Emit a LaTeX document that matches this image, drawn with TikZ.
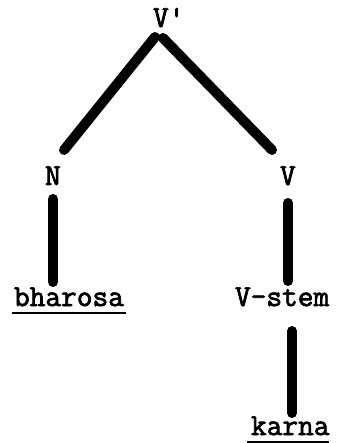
\documentclass[tikz,border=0pt]{standalone}
\usepackage{fontspec}
\newfontfamily\typewriter[FakeBold=2.4]{Latin Modern Mono}
\usetikzlibrary{calc}
\tikzset{
  lbl/.style={font=\typewriter\fontsize{30.5}{30.5}\selectfont, inner sep=0pt, outer sep=0pt, anchor=base west},
  branch/.style={line width=10pt, line cap=round},
  uline/.style={line width=2.4pt}
}
\begin{document}
\begin{tikzpicture}[x=1pt, y=-1pt]
  \useasboundingbox (0,0) rectangle (347,443);

  % labels of the tree
  \node[lbl] (vp)      at (153,27)  {V'};
  \node[lbl] (n)       at (45,185)  {N};
  \node[lbl] (v)       at (280,185) {V};
  \node[lbl] (bharosa) at (14,306)  {bharosa};
  \node[lbl] (vstem)   at (235,306) {V-stem};
  \node[lbl] (karna)   at (251,435) {karna};

  % branches
  \draw[branch] ($(vp.base west)+(2,10)$)  -- ($(n.base west)+(19,-35)$);
  \draw[branch] ($(vp.base west)+(10,11)$) -- ($(v.base west)+(-8,-35)$);
  \draw[branch] ($(n.base west)+(8,14)$)   -- ($(bharosa.base west)+(39,-24)$);
  \draw[branch] ($(v.base west)+(8,18)$)   -- ($(vstem.base west)+(53,-25)$);
  \draw[branch] ($(vstem.base west)+(57,25)$) -- ($(karna.base west)+(41,-22)$);

  % underlined words
  \draw[uline] ($(bharosa.base west)+(-2,7)$) -- ($(bharosa.base east)+(2,7)$);
  \draw[uline] ($(karna.base west)+(-4,7)$)   -- ($(karna.base east)+(-1,7)$);
\end{tikzpicture}
\end{document}
